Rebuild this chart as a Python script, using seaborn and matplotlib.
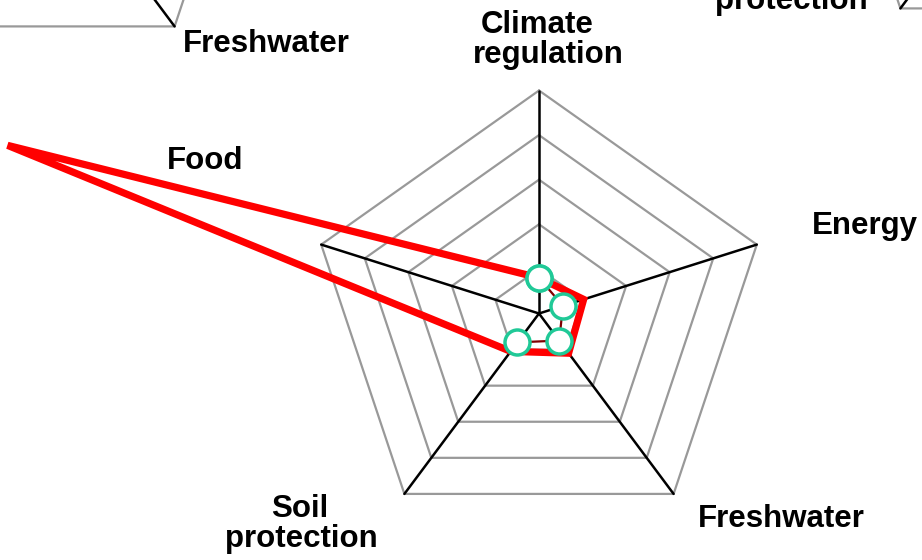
import numpy as np
import matplotlib
matplotlib.use("Agg")
import matplotlib.pyplot as plt
import seaborn as sns
import pandas as pd

# ---- data ----
categories = ["Climate regulation", "Energy", "Freshwater", "Soil protection", "Food"]
series_main = [0.16, 0.205, 0.22, 0.21, 2.44]          # thick red line
series_inner = [0.16, 0.11, 0.15, 0.16, np.nan]        # thin dark red line with markers
ring_levels = [0.2, 0.4, 0.6, 0.8, 1.0]

sns.set_theme(style="white")
plt.rcParams["font.family"] = ["Liberation Sans", "DejaVu Sans"]

W, H = 922, 560
fig = plt.figure(figsize=(W / 100, H / 100), dpi=100)

n = len(categories)
angles = np.linspace(0, 2 * np.pi, n, endpoint=False)
closed_angles = np.append(angles, angles[0])

GRAY = "#999999"


def make_radar(cx, cy, rx=229, ry=223):
    ax = fig.add_axes([(cx - rx) / W, 1 - (cy + ry) / H, 2 * rx / W, 2 * ry / H],
                      projection="polar")
    ax.set_theta_offset(np.pi / 2)
    ax.set_theta_direction(-1)
    ax.set_ylim(0, 1)
    ax.set_aspect("auto")
    ax.axis("off")
    for lv in ring_levels:
        ax.plot(closed_angles, [lv] * (n + 1), color=GRAY, lw=1.6, clip_on=False, zorder=1)
    for a in angles:
        ax.plot([a, a], [0, ring_levels[-1]], color="black", lw=1.8, clip_on=False, zorder=2)
    return ax


# neighbouring (cropped) charts
make_radar(40, -154)
make_radar(1035, -172)

# main chart
ax = make_radar(539, 313.5)

df = pd.DataFrame({"theta": closed_angles, "r": series_main + [series_main[0]],
                   "step": np.arange(n + 1)})
sns.lineplot(data=df, x="theta", y="r", ax=ax, sort=False, estimator=None,
             units="step" if False else None, color="#ff0000",
             lw=5.2, clip_on=False, zorder=3, solid_joinstyle="miter")

inner_closed = series_inner + [series_inner[0]]
ax.plot(closed_angles, inner_closed, color="#800000", lw=1.6, zorder=4, clip_on=False)
ax.plot(closed_angles, inner_closed, ls="none", marker="o", markersize=18,
        markerfacecolor="white", markeredgecolor="#20c997", markeredgewidth=2.5,
        zorder=5, clip_on=False)

# labels (pixel positions -> figure fraction)
FS = 22.5
labels = [
    ("Climate", 537, 33), ("regulation", 548, 63),
    ("Energy", 865, 234),
    ("Freshwater", 781, 527),
    ("Soil", 300, 517), ("protection", 301, 547),
    ("Food", 205, 169),
    ("Freshwater", 266, 52),
    ("protection", 791, 9),
]
for s, x, y in labels:
    fig.text(x / W, 1 - y / H, s, ha="center", va="baseline",
             fontsize=FS, fontweight="bold", color="black")

fig.savefig("out.png", dpi=100)
